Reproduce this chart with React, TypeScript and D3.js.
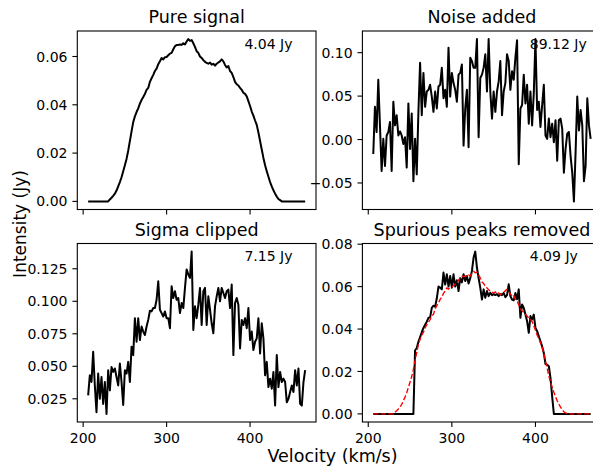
import React from "react";
import * as d3 from "d3";

const velocity = [
  206, 208, 210, 212, 214, 216, 218, 220, 222, 224, 226, 228, 230, 232, 234, 236, 238, 240, 242, 244,
  246, 248, 250, 252, 254, 256, 258, 260, 262, 264, 266, 268, 270, 272, 274, 276, 278, 280, 282, 284,
  286, 288, 290, 292, 294, 296, 298, 300, 302, 304, 306, 308, 310, 312, 314, 316, 318, 320, 322, 324,
  326, 328, 330, 332, 334, 336, 338, 340, 342, 344, 346, 348, 350, 352, 354, 356, 358, 360, 362, 364,
  366, 368, 370, 372, 374, 376, 378, 380, 382, 384, 386, 388, 390, 392, 394, 396, 398, 400, 402, 404,
  406, 408, 410, 412, 414, 416, 418, 420, 422, 424, 426, 428, 430, 432, 434, 436, 438, 440, 442, 444,
  446, 448, 450, 452, 454, 456, 458, 460, 462, 464, 466,
];

const pureSignal = [
  0, 0, 0, 0, 0, 0, 0, 0, 0, 0, 0, 0, 0,
  0.0008, 0.0015, 0.0023, 0.0032, 0.0045, 0.0062, 0.008, 0.01, 0.0125, 0.015, 0.0176, 0.021, 0.025,
  0.029, 0.0328, 0.0352, 0.037, 0.0385, 0.0405, 0.042, 0.0432, 0.0445, 0.0462, 0.047, 0.0495, 0.051,
  0.0524, 0.054, 0.055, 0.0568, 0.058, 0.0594, 0.0588, 0.0597, 0.0598, 0.0605, 0.0612, 0.0615, 0.063,
  0.0642, 0.0648, 0.0648, 0.065, 0.0648, 0.0655, 0.065, 0.0662, 0.0672, 0.0665, 0.0668, 0.0655, 0.064,
  0.0622, 0.0615, 0.06, 0.0594, 0.0585, 0.0578, 0.0574, 0.057, 0.0575, 0.0566, 0.057, 0.0562, 0.057,
  0.0575, 0.058, 0.0588, 0.058, 0.0565, 0.0555, 0.056, 0.054, 0.0532, 0.0515, 0.0495, 0.0485, 0.048,
  0.047, 0.0462, 0.045, 0.0445, 0.0435, 0.0415, 0.0395, 0.0372, 0.0355, 0.0335, 0.0317, 0.0285, 0.025,
  0.0215, 0.018, 0.015, 0.0125, 0.0102, 0.008, 0.0062, 0.0046, 0.0032, 0.002, 0.001, 0.0005,
  0, 0, 0, 0, 0, 0, 0, 0, 0, 0, 0, 0, 0, 0, 0,
];

const noiseAdded = [
  -0.0167, 0.0377, 0.0086, 0.0689, 0.0163, -0.0362, 0.0008, -0.0304, 0.0047, 0.0086,
  0.0202, -0.0362, 0.0436, 0.0163, 0.028, 0.0047, 0.0093, 0.0047, -0.0051, 0.0027,
  -0.0323, 0.0416, -0.0109, 0.03, -0.0479, 0.0008, -0.0401, 0.0319, 0.0883, 0.028,
  0.0767, 0.0377, 0.0553, 0.0572, 0.063, 0.0494, 0.0319, 0.0553, 0.0358, 0.0611,
  0.063, 0.0825, 0.0475, 0.0572, 0.0377, 0.1058, 0.0494, 0.0767, 0.065, 0.0572,
  0.0436, 0.0747, 0.0767, 0.0864, -0.007, 0.0358, 0.0572, -0.0089, 0.0942, 0.0903,
  0.0825, 0.0825, 0.1156, 0.0027, 0.0708, 0.0747, 0.0825, 0.0981, 0.0553, 0.1156,
  0.0553, 0.0241, 0.0553, 0.0319, 0.0553, 0.0669, 0.0903, 0.028, 0.0553, 0.065,
  0.0981, 0.0903, 0.0572, 0.0786, 0.0689, 0.0942, 0.1144, -0.0284, 0.0358, 0.0397,
  0.0747, 0.0416, 0.063, 0.0183, 0.0553, 0.0163, 0.0533, 0.1156, 0.0339, 0.0436,
  0.0144, 0.0397, 0.063, 0.0047, 0.0008, 0.0241, 0.0027, 0.0183, -0.0031, 0.0222,
  -0.0245, 0.0222, 0.0241, 0.0125, -0.0381, -0.0109, 0.0066, 0.0086, -0.0187, -0.0381,
  -0.0712, -0.0148, 0.0494, 0.0105, 0.0339, 0.0163, -0.0479, -0.0304, 0.0475, 0.0163,
  0.0008,
];

const sigmaClipped = [
  0.0276, 0.0431, 0.0379, 0.0612, 0.0353, 0.0147, 0.0444, 0.025, 0.0418, 0.0211,
  0.0379, 0.0134, 0.047, 0.0315, 0.0495, 0.0457, 0.0483, 0.0418, 0.0353, 0.0521,
  0.0379, 0.0203, 0.047, 0.0444, 0.0534, 0.0379, 0.0651, 0.0586, 0.087, 0.0689,
  0.087, 0.0702, 0.0806, 0.0767, 0.0741, 0.0806, 0.0857, 0.0927, 0.0922, 0.0948,
  0.0948, 0.1012, 0.1154, 0.0935, 0.0909, 0.0883, 0.0922, 0.087, 0.087, 0.0793,
  0.1116, 0.1025, 0.1077, 0.1012, 0.1025, 0.0909, 0.0986, 0.0948, 0.1103, 0.1245,
  0.1206, 0.118, 0.1382, 0.078, 0.0961, 0.087, 0.0974, 0.1103, 0.0818, 0.1077,
  0.1103, 0.0818, 0.1038, 0.0935, 0.0831, 0.0754, 0.0961, 0.1038, 0.1103, 0.1,
  0.1103, 0.1064, 0.1025, 0.1077, 0.109, 0.0948, 0.1129, 0.0586, 0.0986, 0.1025,
  0.0974, 0.0638, 0.0857, 0.0818, 0.087, 0.0793, 0.0948, 0.0702, 0.0767, 0.0625,
  0.0689, 0.0715, 0.087, 0.0599, 0.0831, 0.0715, 0.0431, 0.0534, 0.034, 0.0405,
  0.0328, 0.0457, 0.0198, 0.0586, 0.034, 0.0457, 0.0379, 0.0405, 0.0379, 0.0224,
  0.025, 0.0302, 0.0353, 0.0302, 0.047, 0.0353, 0.0483, 0.0211, 0.0198, 0.0379,
  0.047,
];

const peaksRemoved = [
  0, 0, 0, 0, 0, 0, 0, 0, 0, 0, 0, 0, 0, 0, 0, 0, 0, 0, 0, 0, 0, 0, 0, 0, 0,
  0.03, 0.031, 0.034, 0.0362, 0.0385, 0.0405, 0.042, 0.0435, 0.0453, 0.0455,
  0.05, 0.051, 0.0505, 0.0545, 0.06, 0.0595, 0.0587, 0.0666, 0.061, 0.0658,
  0.06, 0.065, 0.0595, 0.0658, 0.06, 0.063, 0.0579, 0.064, 0.062, 0.0658,
  0.0626, 0.065, 0.0615, 0.064, 0.0674, 0.0737, 0.0765, 0.069, 0.064, 0.0595,
  0.0539, 0.0587, 0.0547, 0.0579, 0.0555, 0.0571, 0.056, 0.0565, 0.056, 0.0565,
  0.0555, 0.0565, 0.056, 0.057, 0.055, 0.056, 0.0611, 0.0555, 0.0539, 0.0535,
  0.057, 0.054, 0.0587, 0.0453, 0.0516, 0.05, 0.0468, 0.0437, 0.0382, 0.0461,
  0.0445, 0.0468, 0.0405, 0.039, 0.0366, 0.0342, 0.0318, 0.0287, 0.0235, 0.0232,
  0.0225, 0.0168, 0.0081,
  0, 0, 0, 0, 0, 0, 0, 0, 0, 0, 0, 0, 0, 0, 0, 0, 0, 0, 0, 0, 0, 0, 0,
];

const titles = ["Pure signal", "Noise added", "Sigma clipped", "Spurious peaks removed"];
const fluxLabels = ["4.04 Jy", "89.12 Jy", "7.15 Jy", "4.09 Jy"];
const xTicks = [200, 300, 400];
const yTicksPure = [0, 0.02, 0.04, 0.06];
const yTicksNoise = [-0.05, 0, 0.05, 0.1];
const yTicksClip = [0.025, 0.05, 0.075, 0.1, 0.125];
const yTicksRemoved = [0, 0.02, 0.04, 0.06, 0.08];

const FONT = "DejaVu Sans";
const W = 593;
const H = 469;
const COLS = [
  [77.3, 316],
  [362.4, 601.5],
];
const ROWS = [
  [31, 209.5],
  [243.5, 422],
];

function padded(ext: [number, number]): [number, number] {
  const p = (ext[1] - ext[0]) * 0.05;
  return [ext[0] - p, ext[1] + p];
}

type PanelSpec = {
  col: number;
  row: number;
  title: string;
  flux: string;
  series: { values: number[]; color: string; width: number; dash?: string }[];
  yTicks: number[];
  yFmt: string;
  showXLabels: boolean;
};

const xDomain = padded(d3.extent(velocity) as [number, number]);

function Panel({ spec, idx }: { spec: PanelSpec; idx: number }) {
  const [x0, x1] = COLS[spec.col];
  const [y0, y1] = ROWS[spec.row];
  const x = d3.scaleLinear().domain(xDomain).range([x0, x1]);
  const all = spec.series.flatMap((s) => s.values);
  const y = d3.scaleLinear().domain(padded(d3.extent(all) as [number, number])).range([y1, y0]);
  const fmt = d3.format(spec.yFmt);
  const clipId = `clip${idx}`;
  const tickLen = 4.9;
  return (
    <g>
      <defs>
        <clipPath id={clipId}>
          <rect x={x0} y={y0} width={x1 - x0} height={y1 - y0} />
        </clipPath>
      </defs>
      <g clipPath={`url(#${clipId})`}>
        {spec.series.map((s, i) => {
          const line = d3
            .line<number>()
            .x((_, j) => x(velocity[j]))
            .y((d) => y(d));
          return (
            <path
              key={i}
              d={line(s.values) || ""}
              fill="none"
              stroke={s.color}
              strokeWidth={s.width}
              strokeDasharray={s.dash}
              strokeLinejoin="round"
            />
          );
        })}
      </g>
      <rect x={x0} y={y0} width={x1 - x0} height={y1 - y0} fill="none" stroke="#000" strokeWidth={1.1} />
      {xTicks.map((t) => (
        <g key={`x${t}`}>
          <line x1={x(t)} x2={x(t)} y1={y1} y2={y1 + tickLen} stroke="#000" strokeWidth={1.1} />
          {spec.showXLabels && (
            <text x={x(t)} y={y1 + 20.5} textAnchor="middle" fontFamily={FONT} fontSize={14} fill="#000">
              {t}
            </text>
          )}
        </g>
      ))}
      {spec.yTicks.map((t) => (
        <g key={`y${t}`}>
          <line x1={x0 - tickLen} x2={x0} y1={y(t)} y2={y(t)} stroke="#000" strokeWidth={1.1} />
          <text x={x0 - 9.8} y={y(t)} dy="0.36em" textAnchor="end" fontFamily={FONT} fontSize={14} fill="#000">
            {fmt(t)}
          </text>
        </g>
      ))}
      <text x={(x0 + x1) / 2} y={y0 - 8} textAnchor="middle" fontFamily={FONT} fontSize={17.5} fill="#000">
        {spec.title}
      </text>
      <text
        x={x0 + 0.7 * (x1 - x0)}
        y={y1 - 0.9 * (y1 - y0)}
        textAnchor="start"
        fontFamily={FONT}
        fontSize={14}
        fill="#000"
      >
        {spec.flux}
      </text>
    </g>
  );
}

export default function App() {
  const panels: PanelSpec[] = [
    {
      col: 0, row: 0, title: titles[0], flux: fluxLabels[0],
      series: [{ values: pureSignal, color: "#000", width: 2 }],
      yTicks: yTicksPure, yFmt: ".2f", showXLabels: false,
    },
    {
      col: 1, row: 0, title: titles[1], flux: fluxLabels[1],
      series: [{ values: noiseAdded, color: "#000", width: 2 }],
      yTicks: yTicksNoise, yFmt: ".2f", showXLabels: false,
    },
    {
      col: 0, row: 1, title: titles[2], flux: fluxLabels[2],
      series: [{ values: sigmaClipped, color: "#000", width: 2 }],
      yTicks: yTicksClip, yFmt: ".3f", showXLabels: true,
    },
    {
      col: 1, row: 1, title: titles[3], flux: fluxLabels[3],
      series: [
        { values: peaksRemoved, color: "#000", width: 2 },
        { values: pureSignal, color: "#ff0000", width: 1.4, dash: "5.2,2.3" },
      ],
      yTicks: yTicksRemoved, yFmt: ".2f", showXLabels: true,
    },
  ];
  return (
    <svg
      width={W}
      height={H}
      viewBox={`0 0 ${W} ${H}`}
      style={{ position: "absolute", left: 0, top: 0, background: "#fff" }}
    >
      <rect x={0} y={0} width={W} height={H} fill="#fff" />
      {panels.map((p, i) => (
        <Panel key={i} spec={p} idx={i} />
      ))}
      <text x={332.5} y={462} textAnchor="middle" fontFamily={FONT} fontSize={17.5} fill="#000">
        Velocity (km/s)
      </text>
      <text
        transform={`translate(25.5,224) rotate(-90)`}
        textAnchor="middle"
        fontFamily={FONT}
        fontSize={17}
        fill="#000"
      >
        Intensity (Jy)
      </text>
    </svg>
  );
}
